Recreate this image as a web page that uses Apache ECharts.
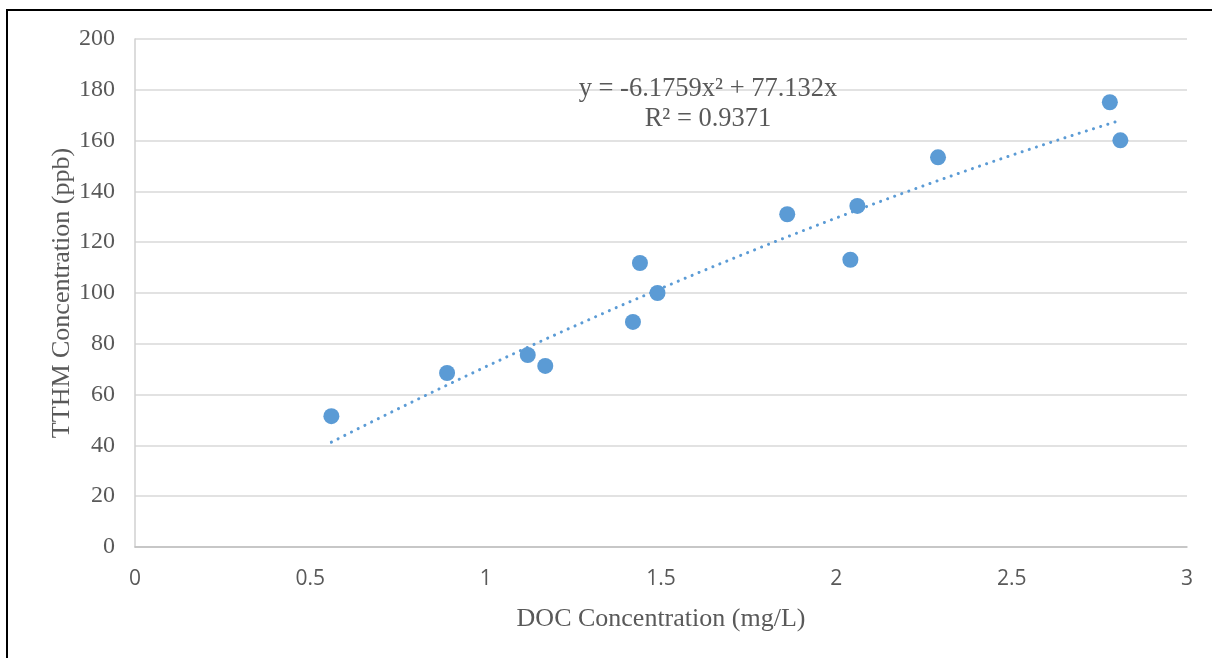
<!DOCTYPE html>
<html>
<head>
<meta charset="utf-8">
<script src="https://cdn.jsdelivr.net/npm/echarts@6/dist/echarts.min.js"></script>
<style>
  html, body { margin: 0; padding: 0; background: #fff; }
  #frame { position: absolute; left: 6px; top: 9px; width: 1220px; height: 660px;
           border-left: 2px solid #000; border-top: 2px solid #000; }
  #chart { position: absolute; left: 0; top: 0; width: 1212px; height: 658px; }
</style>
</head>
<body>
<div id="frame"></div>
<div id="chart"></div>
<script>
// DOC (mg/L) vs TTHM (ppb) measurements
const docValues  = [0.56, 0.89, 1.12, 1.17, 1.42, 1.44, 1.49, 1.86, 2.04, 2.06, 2.29, 2.78, 2.81];
const tthmValues = [51.5, 68.5, 75.6, 71.3, 88.6, 111.8, 100.0, 131.0, 113.1, 134.3, 153.4, 175.1, 160.1];

// Polynomial trendline (order 2, zero intercept) as printed on the chart
const trendA = -6.1759;
const trendB = 77.132;
const trendR2 = 0.9371;
const equationText = 'y = -6.1759x² + 77.132x';
const r2Text = 'R² = 0.9371';

const xTitle = 'DOC Concentration (mg/L)';
const yTitle = 'TTHM Concentration (ppb)';
const xTicks = [0, 0.5, 1, 1.5, 2, 2.5, 3];
const yTicks = [0, 20, 40, 60, 80, 100, 120, 140, 160, 180, 200];

const points = docValues.map((x, i) => [x, tthmValues[i]]);

const xMin = Math.min(...docValues);
const xMax = Math.max(...docValues);
const trend = [];
const steps = 200;
for (let i = 0; i <= steps; i++) {
  const x = xMin + (xMax - xMin) * i / steps;
  trend.push([x, trendA * x * x + trendB * x]);
}

const chart = echarts.init(document.getElementById('chart'), null, { renderer: 'canvas' });
const serif = '"Liberation Serif", "Times New Roman", serif';
const textColor = '#595959';

chart.setOption({
  animation: false,
  grid: { left: 135, right: 25, top: 39, bottom: 111, containLabel: false },
  xAxis: {
    type: 'value', min: xTicks[0], max: xTicks[xTicks.length - 1], interval: 0.5,
    axisLine: { show: true, lineStyle: { color: '#bfbfbf', width: 1.5 } },
    axisTick: { show: false },
    splitLine: { show: false },
    axisLabel: {
      color: textColor, fontFamily: '"Open Sans", "Noto Sans", sans-serif', fontSize: 21, margin: 22,
      formatter: v => String(v)
    },
    name: xTitle, nameLocation: 'middle', nameGap: 59,
    nameTextStyle: { color: textColor, fontFamily: serif, fontSize: 26 }
  },
  yAxis: {
    type: 'value', min: yTicks[0], max: yTicks[yTicks.length - 1], interval: 20,
    axisLine: { show: true, lineStyle: { color: '#d0d0d0', width: 1.5 } },
    axisTick: { show: false },
    splitLine: { show: true, lineStyle: { color: '#d9d9d9', width: 1.5 } },
    axisLabel: { color: textColor, fontFamily: serif, fontSize: 24, margin: 20 }
  },
  series: [
    {
      type: 'line', data: trend, showSymbol: false, symbol: 'none', z: 2,
      lineStyle: { color: '#5b9bd5', width: 3, type: [0.1, 7.4], cap: 'round' }
    },
    {
      type: 'scatter', data: points, symbol: 'circle', symbolSize: 16, z: 3,
      itemStyle: { color: '#5b9bd5', opacity: 1 }
    }
  ],
  graphic: [
    {
      // vertical axis title
      type: 'text', x: 62, y: 293, rotation: Math.PI / 2, z: 10,
      style: { text: yTitle, align: 'center', verticalAlign: 'middle',
               fill: textColor, font: '26px ' + serif }
    },
    {
      type: 'text', x: 708, y: 89, z: 10,
      style: { text: equationText, align: 'center', verticalAlign: 'middle',
               fill: textColor, font: '26.5px ' + serif }
    },
    {
      type: 'text', x: 708, y: 119, z: 10,
      style: { text: r2Text, align: 'center', verticalAlign: 'middle',
               fill: textColor, font: '26.5px ' + serif }
    }
  ]
});
</script>
</body>
</html>
